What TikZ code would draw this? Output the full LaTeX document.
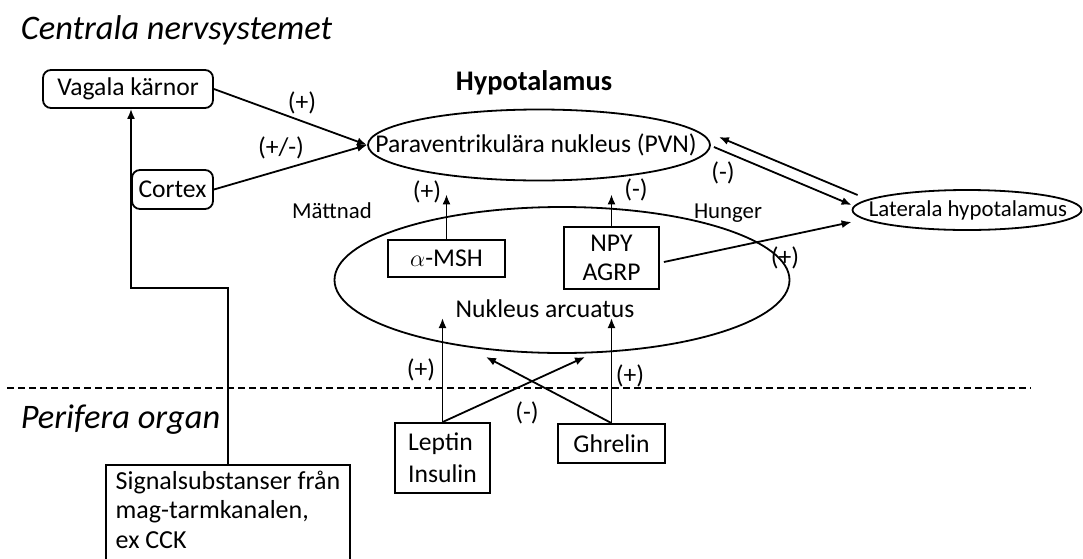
\documentclass[tikz,border=0pt]{standalone}
\usepackage{fontspec}
\setmainfont{Carlito}
\usetikzlibrary{arrows.meta, shapes.geometric}

\begin{document}
\begin{tikzpicture}[x=0.5pt, y=-0.5pt, line width=0.9pt,
    >={Latex[length=5pt, width=4pt]},
    every node/.style={font=\fontsize{12.8}{14.8}\selectfont},
    rbox/.style={draw, rounded corners=4pt, inner sep=0pt},
    sbox/.style={draw, inner sep=0pt},
    oval/.style={draw, ellipse, inner sep=0pt},
    small/.style={font=\fontsize{11.4}{13}\selectfont},
    region/.style={anchor=west, inner sep=0pt, font=\fontsize{17.2}{20}\selectfont\itshape}]
    \clip (0,0) rectangle (1083,558);

    \node (CNS) [region] at (20,30) {Centrala nervsystemet};
    \node (Periph) [region] at (20,420) {Perifera organ};
    \node (Hypo) [font=\fontsize{14.2}{16}\selectfont\bfseries] at (534,83) {Hypotalamus};

    \node (Vagal) [rbox, minimum width=85pt, minimum height=19pt] at (128,89) {Vagala kärnor};
    \node (Cortex) [rbox, minimum width=40.5pt, minimum height=19.5pt] at (172.5,189.5) {Cortex};
    \node (PVN) [oval, minimum width=171pt, minimum height=35.5pt] at (539,145) {};
    \node (PVNtext) at (536,145) {Paraventrikulära nukleus (PVN)};
    \node (Arc) [oval, minimum width=227.5pt, minimum height=73pt] at (562,280) {};
    \node (ArcText) at (545,309) {Nukleus arcuatus};
    \node (MSH) [sbox, minimum width=58.5pt, minimum height=18.5pt] at (446.5,258.5) {$\alpha$-MSH};
    \node (NPY) [sbox, align=center, minimum width=47.5pt, minimum height=31pt] at (611.5,258) {NPY\\AGRP};
    \node (LH) [oval, minimum width=114.5pt, minimum height=20pt] at (967,210) {};
    \node (LHtext) [small] at (968,210) {Laterala hypotalamus};
    \node (Lep) [sbox, align=left, minimum width=47.5pt, minimum height=35pt,
        font=\fontsize{12.8}{16}\selectfont] at (442.5,458) {Leptin\\Insulin};
    \node (Ghr) [sbox, minimum width=53.5pt, minimum height=19.5pt] at (611.5,443.5) {Ghrelin};
    \node (Sig) [sbox, anchor=north, align=left, minimum width=122pt, inner ysep=3pt,
        font=\fontsize{13}{14.75}\selectfont] at (228,464)
        {Signalsubstanser från\\mag-tarmkanalen,\\ex CCK\\~};

    % labels
    \node (VagalSign) at (302,103) {(+)};
    \node (CortexSign) at (281,148) {(+/-)};
    \node (Satiety) [small] at (332,211) {Mättnad};
    \node (MSHSign) at (427,192) {(+)};
    \node (NPYSign) at (636,190) {(-)};
    \node (LHSign) at (723,173) {(-)};
    \node (Hunger) [small] at (728,213) {Hunger};
    \node (NPYLHSign) at (785,258) {(+)};
    \node (LepSign) at (421,370) {(+)};
    \node (GhrSign) at (630,376) {(+)};
    \node (CrossSign) at (527,413) {(-)};

    \coordinate (Knee) at (131,288);
    \coordinate (LepTip) at (442.5,318);
    \coordinate (GhrTip) at (611.5,318);
    \coordinate (CrossR) at (585,357);
    \coordinate (CrossL) at (486,357);

    \draw[dash pattern=on 3.5pt off 2pt] (7,388) -- (1031,388);

    \draw[->] (Vagal.east) -- (PVN.west);
    \draw[->] (Cortex.east) -- (PVN.west);
    \draw[->, shorten >=6.5pt] (MSH.north) -- (MSH.north |- PVN.south);
    \draw[->, shorten >=6.5pt] (NPY.north) -- (NPY.north |- PVN.south);
    \draw[->] ([shift={(6,-15)}]LH.west) -- ([shift={(8,-8)}]PVN.east);
    \draw[->] ([shift={(3,2)}]PVN.east) -- ([shift={(0,-5)}]LH.west);
    \draw[->] ([shift={(4,4)}]NPY.east) -- ([shift={(0,12)}]LH.west);
    \draw[->] (Lep.north) -- (LepTip);
    \draw[->] (Ghr.north) -- (GhrTip);
    \draw[->] (Lep.north) -- (CrossR);
    \draw[->] (Ghr.north) -- (CrossL);
    \draw[->] (Sig.north) |- (Knee) -- (Knee |- Vagal.south);
\end{tikzpicture}
\end{document}
